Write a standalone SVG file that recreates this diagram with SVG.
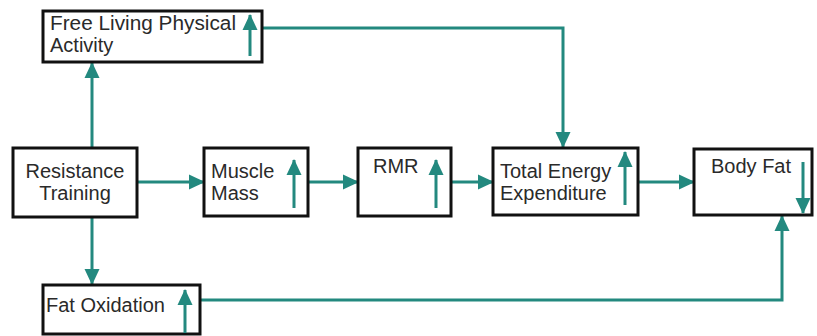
<svg xmlns="http://www.w3.org/2000/svg" width="817" height="336" viewBox="0 0 817 336">
<defs>
<marker id="ah" markerUnits="userSpaceOnUse" markerWidth="16" markerHeight="16" viewBox="0 0 16 16" refX="15" refY="8" orient="auto">
<path d="M0,0.5 L16,8 L0,15.5 z" fill="#23897f"/>
</marker>
</defs>
<style>
.box{fill:#fff;stroke:#111;stroke-width:3}
.t{font-family:"Liberation Sans",Arial,sans-serif;font-size:20px;fill:#2a2a2a}
.c{fill:none;stroke:#23897f;stroke-width:3;marker-end:url(#ah)}
.ind{fill:none;stroke:#23897f;stroke-width:3;marker-end:url(#ah)}
</style>
<rect width="817" height="336" fill="#fff"/>
<g id="connectors">
<path class="c" d="M92,147 V63"/>
<path class="c" d="M92,217 V284"/>
<path class="c" d="M137,182 H204"/>
<path class="c" d="M308,182 H358"/>
<path class="c" d="M451,182 H493"/>
<path class="c" d="M638,182 H694"/>
<path class="c" d="M262,28 H563 V147"/>
<path class="c" d="M200,300 H782 V216"/>
</g>
<g id="free-living">
<rect class="box" x="43" y="11" width="219" height="51"/>
<text class="t" x="50" y="30" textLength="186" lengthAdjust="spacingAndGlyphs">Free Living Physical</text>
<text class="t" x="50" y="52">Activity</text>
<path class="ind" d="M250,56 V15"/>
</g>
<g id="resistance-training">
<rect class="box" x="13" y="148" width="124" height="69"/>
<text class="t" x="75" y="178" text-anchor="middle">Resistance</text>
<text class="t" x="75" y="200" text-anchor="middle">Training</text>
</g>
<g id="muscle-mass">
<rect class="box" x="204" y="148" width="104" height="68"/>
<text class="t" x="211" y="178">Muscle</text>
<text class="t" x="211" y="200">Mass</text>
<path class="ind" d="M294,208 V160"/>
</g>
<g id="rmr">
<rect class="box" x="358" y="148" width="93" height="68"/>
<text class="t" x="373" y="173">RMR</text>
<path class="ind" d="M436,208 V160"/>
</g>
<g id="tee">
<rect class="box" x="493" y="148" width="145" height="67"/>
<text class="t" x="500" y="178">Total Energy</text>
<text class="t" x="500" y="200">Expenditure</text>
<path class="ind" d="M625,205 V152"/>
</g>
<g id="body-fat">
<rect class="box" x="694" y="149" width="118" height="66"/>
<text class="t" x="711" y="173">Body Fat</text>
<path class="ind" d="M803,162 V213"/>
</g>
<g id="fat-oxidation">
<rect class="box" x="43" y="285" width="157" height="49"/>
<text class="t" x="46" y="312">Fat Oxidation</text>
<path class="ind" d="M185,333 V290"/>
</g>
</svg>
